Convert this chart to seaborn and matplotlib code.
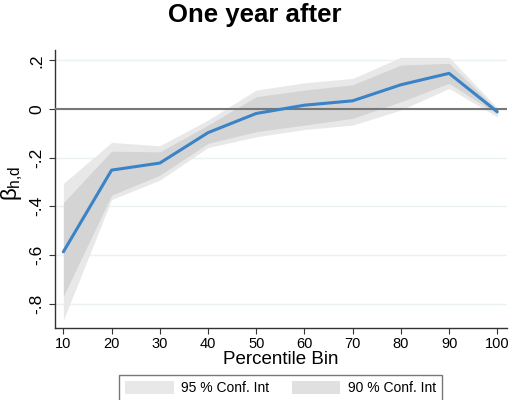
import matplotlib
matplotlib.use("Agg")
import matplotlib.pyplot as plt
import seaborn as sns
import numpy as np
import pandas as pd
from matplotlib.patches import Patch

# ---- data ----
bins = [10, 20, 30, 40, 50, 60, 70, 80, 90, 100]
beta = [-0.587, -0.251, -0.222, -0.097, -0.018, 0.016, 0.034, 0.100, 0.147, -0.011]
ci90_lo = [-0.770, -0.354, -0.272, -0.141, -0.093, -0.066, -0.038, 0.030, 0.106, -0.021]
ci90_hi = [-0.385, -0.173, -0.176, -0.066, 0.051, 0.078, 0.100, 0.181, 0.188, -0.004]
ci95_lo = [-0.868, -0.372, -0.292, -0.158, -0.114, -0.084, -0.066, -0.004, 0.085, -0.032]
ci95_hi = [-0.306, -0.137, -0.151, -0.045, 0.078, 0.108, 0.126, 0.213, 0.213, 0.005]
yticks = [-0.8, -0.6, -0.4, -0.2, 0.0, 0.2]
yticklabels = ["-.8", "-.6", "-.4", "-.2", "0", ".2"]
xticks = [10, 20, 30, 40, 50, 60, 70, 80, 90, 100]
legend_labels = ["95 % Conf. Int", "90 % Conf. Int"]

df = pd.DataFrame({"bin": bins, "beta": beta})

sns.set_style("white")
plt.rcParams["font.family"] = ["Liberation Sans", "DejaVu Sans"]
plt.rcParams["mathtext.fontset"] = "custom"
plt.rcParams["mathtext.rm"] = "Liberation Sans"
plt.rcParams["mathtext.it"] = "Liberation Sans"
plt.rcParams["text.color"] = "black"
plt.rcParams["axes.labelcolor"] = "black"
plt.rcParams["xtick.color"] = "black"
plt.rcParams["ytick.color"] = "black"

fig = plt.figure(figsize=(5.1, 4.0), dpi=100)
ax = fig.add_axes([0.108, 0.179, 0.8855, 0.696])

c95 = "#e8e8e8"
c90 = "#d4d4d4"
ax.fill_between(bins, ci95_lo, ci95_hi, color=c95, lw=0, zorder=1)
ax.fill_between(bins, ci90_lo, ci90_hi, color=c90, lw=0, zorder=2)

for t in yticks:
    ax.axhline(t, color="#eaf2f3", lw=1.0, zorder=0.5)
ax.axhline(0, color="#777777", lw=1.5, zorder=3)

sns.lineplot(data=df, x="bin", y="beta", ax=ax, color="#3a83c6", lw=2.2, zorder=4)

ax.set_xlim(8.28, 101.95)
ax.set_ylim(-0.902, 0.243)
ax.set_yticks(yticks)
ax.set_yticklabels(yticklabels, rotation=90, va="center", fontsize=12.5)
ax.set_xticks(xticks)
ax.set_xticklabels([str(x) for x in xticks], fontsize=10.5)
ax.tick_params(axis="both", which="both", direction="out", length=4, width=0.8,
               color="#333333", left=True, bottom=True, pad=2)
ax.tick_params(axis="y", pad=4)

for s in ["top", "right"]:
    ax.spines[s].set_visible(False)
for s in ["left", "bottom"]:
    ax.spines[s].set_color("#333333")
    ax.spines[s].set_linewidth(1.0)

ax.set_xlabel("Percentile Bin", fontsize=13.5, labelpad=0)
ax.set_ylabel(r"$\beta_{h{,}d}$", fontsize=16)
ax.yaxis.set_label_coords(-0.066, 0.52)

fig.text(0.499, 0.962, "One year after", ha="center", va="center",
         fontsize=18.5, fontweight="bold", color="black")

handles = [Patch(facecolor=c95, edgecolor="none"), Patch(facecolor="#e0e0e0", edgecolor="none")]
leg = fig.legend(handles, legend_labels, loc="upper center", bbox_to_anchor=(0.55, 0.0625),
                 ncol=2, frameon=True, fancybox=False, fontsize=10,
                 handlelength=3.5, handleheight=1.0, columnspacing=1.6, borderpad=0.45,
                 handletextpad=0.55, borderaxespad=0)
leg.get_frame().set_edgecolor("#555555")
leg.get_frame().set_linewidth(1.0)

fig.savefig("out.png", dpi=100)
